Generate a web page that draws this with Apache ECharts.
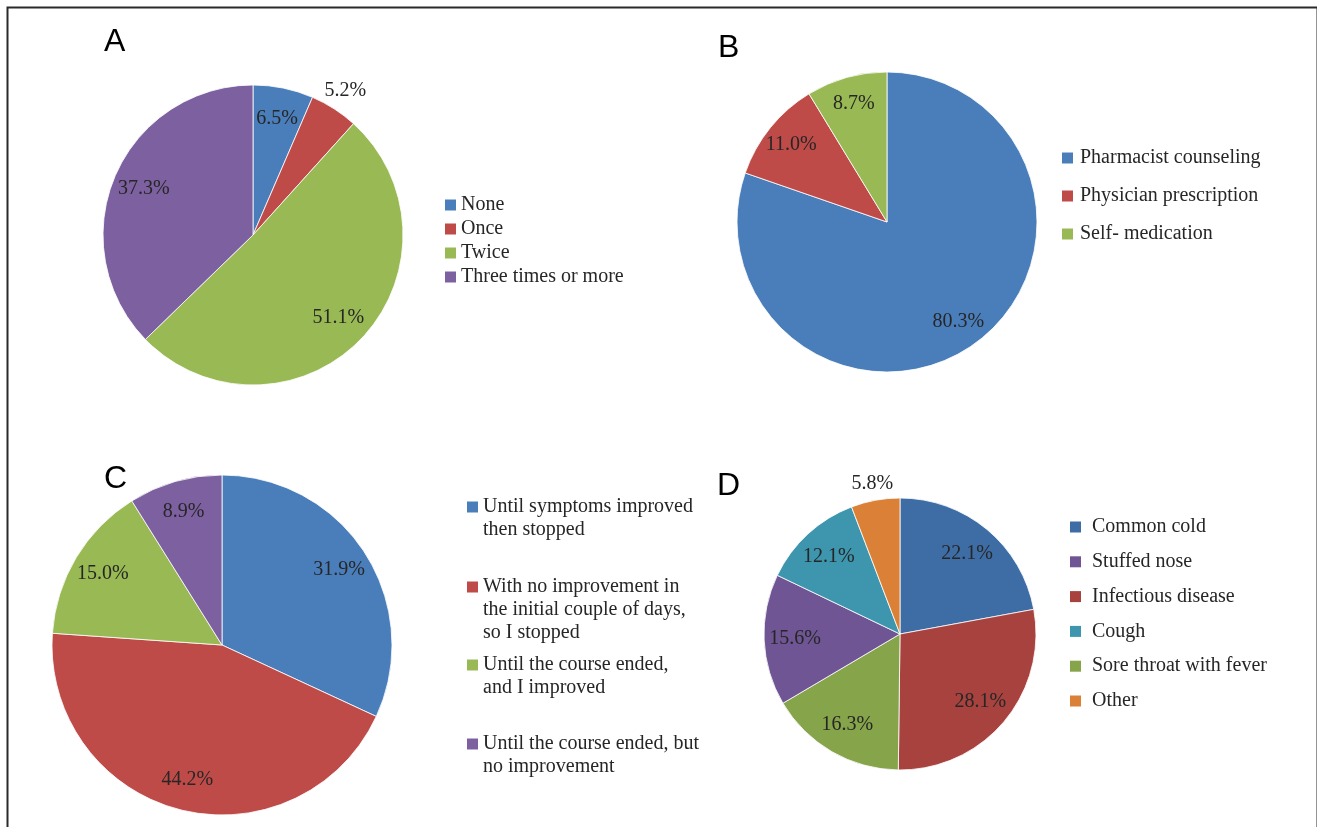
<!DOCTYPE html>
<html>
<head>
<meta charset="utf-8">
<script src="https://cdn.jsdelivr.net/npm/echarts@6/dist/echarts.min.js"></script>
<style>
html,body{margin:0;padding:0;background:#fff;}
#chart{width:1317px;height:827px;}
</style>
</head>
<body>
<div id="chart"></div>
<script>
// ---- Data ----
const catsA = ['None', 'Once', 'Twice', 'Three times or more'];
const valsA = [6.5, 5.2, 51.1, 37.3];

const catsB = ['Pharmacist counseling', 'Physician prescription', 'Self- medication'];
const valsB = [80.3, 11.0, 8.7];

const catsC = [
  'Until symptoms improved\nthen stopped',
  'With no improvement in\nthe initial couple of days,\nso I stopped',
  'Until the course ended,\nand I improved',
  'Until the course ended, but\nno improvement'
];
const valsC = [31.9, 44.2, 15.0, 8.9];

// slice order (clockwise from 12 o'clock)
const catsD = ['Common cold', 'Infectious disease', 'Sore throat with fever', 'Stuffed nose', 'Cough', 'Other'];
const valsD = [22.1, 28.1, 16.3, 15.6, 12.1, 5.8];
// legend order
const legendD = ['Common cold', 'Stuffed nose', 'Infectious disease', 'Cough', 'Sore throat with fever', 'Other'];

const panelLetters = ['A', 'B', 'C', 'D'];

// ---- Styling ----
const colorsABC = ['#4A7EBB', '#BE4B48', '#98B954', '#7D60A0'];
const colorsD = ['#3E6DA5', '#A8423F', '#86A44A', '#6F5593', '#3D96AE', '#DA8137'];
const SERIF = '"Liberation Serif", "Times New Roman", serif';
const TXT = '#262626';
const SMALL = 6; // slices below this get their label outside the pie

function fmt(p) { return p.value.toFixed(1) + '%'; }

function pieSeries(cats, vals, colors, center, r, f, outF) {
  const main = {
    type: 'pie', center: center, radius: [0, r], startAngle: 90, clockwise: true,
    label: { show: false }, labelLine: { show: false },
    emphasis: { disabled: true }, silent: true,
    itemStyle: { borderColor: '#ffffff', borderWidth: 0.8 },
    data: cats.map((c, i) => ({ name: c, value: vals[i], itemStyle: { color: colors[i] } }))
  };
  const lblStyle = { color: TXT, fontFamily: SERIF, fontSize: 20, formatter: fmt, position: 'inside' };
  const inner = {
    type: 'pie', center: center, radius: [(2 * f - 1) * r, r], startAngle: 90, clockwise: true,
    silent: true, emphasis: { disabled: true }, tooltip: { show: false },
    labelLine: { show: false },
    itemStyle: { color: 'rgba(0,0,0,0)', borderWidth: 0 },
    label: Object.assign({ show: true }, lblStyle),
    data: cats.map((c, i) => ({ name: c, value: vals[i], label: { show: vals[i] >= SMALL } }))
  };
  const outer = {
    type: 'pie', center: center, radius: [r, (2 * outF - 1) * r], startAngle: 90, clockwise: true,
    silent: true, emphasis: { disabled: true }, tooltip: { show: false },
    labelLine: { show: false },
    itemStyle: { color: 'rgba(0,0,0,0)', borderWidth: 0 },
    label: Object.assign({ show: true }, lblStyle),
    data: cats.map((c, i) => ({ name: c, value: vals[i], label: { show: vals[i] < SMALL } }))
  };
  return [main, inner, outer];
}

const legendText = { color: TXT, fontFamily: SERIF, fontSize: 20, lineHeight: 20 };
const legendIcon = { itemWidth: 11, itemHeight: 11, icon: 'rect', selectedMode: false,
  itemStyle: { borderWidth: 0 } };

const legends = [
  Object.assign({ data: catsA, left: 445, top: 195, orient: 'vertical', itemGap: 4, padding: 0,
    textStyle: Object.assign({}, legendText) }, legendIcon),
  Object.assign({ data: catsB, left: 1062, top: 148, orient: 'vertical', itemGap: 18, padding: 0,
    textStyle: Object.assign({ padding: [0, 0, 0, 2] }, legendText) }, legendIcon),
  Object.assign({ data: legendD, left: 1070, top: 517, orient: 'vertical', itemGap: 14.8, padding: 0,
    textStyle: Object.assign({ padding: [0, 0, 0, 6] }, legendText) }, legendIcon)
];
// Legend C: one block per entry; blank lines in front keep the marker on the first text line
const lhC = 23;
const firstLineC = [507, 587, 665, 744];
catsC.forEach((c, i) => {
  const n = c.split('\n').length;
  legends.push(Object.assign({
    data: [c], left: 467, top: firstLineC[i] - lhC / 2 - (n - 1) * lhC, padding: 0,
    formatter: name => '\n'.repeat(n - 1) + name,
    textStyle: { color: TXT, fontFamily: SERIF, fontSize: 20, lineHeight: lhC }
  }, legendIcon));
});

const titlePos = [[104, 26], [718, 32], [104, 463], [717, 470]];
const titles = panelLetters.map((t, i) => ({
  text: t, left: titlePos[i][0], top: titlePos[i][1], padding: 0,
  textStyle: { fontFamily: '"Liberation Sans", Arial, sans-serif', fontSize: 32, fontWeight: 'normal', color: '#000' }
}));

const series = [].concat(
  pieSeries(catsA, valsA, colorsABC, [253, 235], 150, 0.77, 1.12),
  pieSeries(catsB, valsB, colorsABC, [887, 222], 150, 0.80, 1.15),
  pieSeries(catsC, valsC, colorsABC, [222, 645], 170, 0.80, 1.12),
  pieSeries(catsD, valsD, colorsD, [900, 634], 136, 0.75, 1.10)
);

const chart = echarts.init(document.getElementById('chart'), null, { renderer: 'canvas' });
chart.setOption({
  backgroundColor: '#ffffff',
  animation: false,
  title: titles,
  legend: legends,
  graphic: [{
    type: 'rect', left: 5, top: 5, silent: true,
    shape: { x: 0, y: 0, width: 1310, height: 840 },
    style: { fill: 'none', stroke: '#2a2a2a', lineWidth: 2 }
  }],
  series: series
});
</script>
</body>
</html>
